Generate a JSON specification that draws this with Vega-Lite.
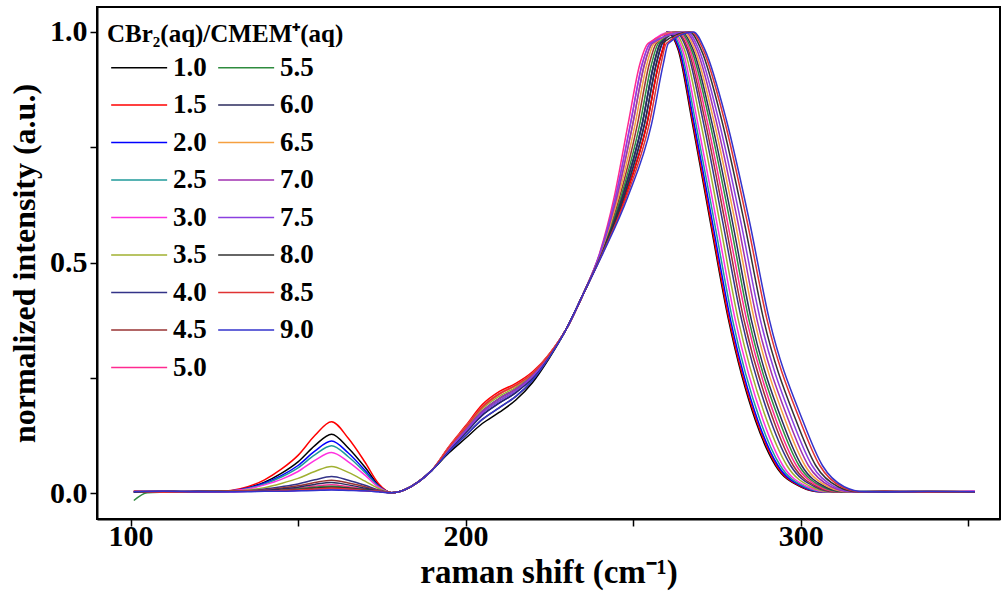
{
"$schema":"https://vega.github.io/schema/vega-lite/v6.json",
"width":903,"height":512,
"autosize":{"type":"none"},
"padding":{"left":97,"top":7,"right":2,"bottom":72},
"background":"white",
"config":{"view":{"stroke":"black","strokeWidth":2},
"axis":{"domainColor":"black","domainWidth":2,"tickColor":"black","tickWidth":1.5,"tickSize":7,"grid":false,"labelFont":"Liberation Serif","labelFontWeight":"bold","labelFontSize":30,"labelColor":"black","titleFont":"Liberation Serif","titleFontWeight":"bold","titleFontSize":32,"titleColor":"black","labelPadding":1}},
"data":{"values":[
{"c":"1.0","x":101,"y":0.004},{"c":"1.0","x":110,"y":0.002},{"c":"1.0","x":120,"y":0.003},{"c":"1.0","x":130,"y":0.005},{"c":"1.0","x":135,"y":0.012},{"c":"1.0","x":140,"y":0.024},{"c":"1.0","x":145,"y":0.043},{"c":"1.0","x":150,"y":0.068},{"c":"1.0","x":155,"y":0.103},{"c":"1.0","x":160,"y":0.128},{"c":"1.0","x":165,"y":0.098},{"c":"1.0","x":170,"y":0.056},{"c":"1.0","x":174,"y":0.018},{"c":"1.0","x":178,"y":0.001},{"c":"1.0","x":182,"y":0.008},{"c":"1.0","x":186,"y":0.025},{"c":"1.0","x":190,"y":0.05},{"c":"1.0","x":195,"y":0.087},{"c":"1.0","x":200,"y":0.119},{"c":"1.0","x":205,"y":0.151},{"c":"1.0","x":210,"y":0.175},{"c":"1.0","x":215,"y":0.202},{"c":"1.0","x":220,"y":0.24},{"c":"1.0","x":225,"y":0.293},{"c":"1.0","x":230,"y":0.355},{"c":"1.0","x":235,"y":0.43},{"c":"1.0","x":240.8,"y":0.52},{"c":"1.0","x":247.5,"y":0.64},{"c":"1.0","x":254.1,"y":0.8},{"c":"1.0","x":257.6,"y":0.93},{"c":"1.0","x":259.3,"y":0.975},{"c":"1.0","x":260,"y":1.0},{"c":"1.0","x":263.5,"y":0.96},{"c":"1.0","x":267.5,"y":0.81},{"c":"1.0","x":273,"y":0.59},{"c":"1.0","x":278.5,"y":0.375},{"c":"1.0","x":286.5,"y":0.158},{"c":"1.0","x":292.5,"y":0.06},{"c":"1.0","x":300,"y":0.014},{"c":"1.0","x":306,"y":0.003},{"c":"1.0","x":325,"y":0.002},{"c":"1.0","x":338,"y":0.004},{"c":"1.0","x":352,"y":0.003},
{"c":"1.5","x":101,"y":0.003},{"c":"1.5","x":110,"y":0.004},{"c":"1.5","x":120,"y":0.002},{"c":"1.5","x":130,"y":0.006},{"c":"1.5","x":135,"y":0.014},{"c":"1.5","x":140,"y":0.029},{"c":"1.5","x":145,"y":0.052},{"c":"1.5","x":150,"y":0.082},{"c":"1.5","x":155,"y":0.125},{"c":"1.5","x":160,"y":0.155},{"c":"1.5","x":165,"y":0.119},{"c":"1.5","x":170,"y":0.067},{"c":"1.5","x":174,"y":0.021},{"c":"1.5","x":178,"y":0.001},{"c":"1.5","x":182,"y":0.008},{"c":"1.5","x":186,"y":0.025},{"c":"1.5","x":190,"y":0.05},{"c":"1.5","x":195,"y":0.101},{"c":"1.5","x":200,"y":0.146},{"c":"1.5","x":205,"y":0.192},{"c":"1.5","x":210,"y":0.22},{"c":"1.5","x":215,"y":0.238},{"c":"1.5","x":220,"y":0.263},{"c":"1.5","x":225,"y":0.302},{"c":"1.5","x":230,"y":0.355},{"c":"1.5","x":235,"y":0.43},{"c":"1.5","x":240.8,"y":0.52},{"c":"1.5","x":247.5,"y":0.64},{"c":"1.5","x":254.1,"y":0.8},{"c":"1.5","x":257.6,"y":0.93},{"c":"1.5","x":259.3,"y":0.975},{"c":"1.5","x":260.2,"y":1.0},{"c":"1.5","x":263.7,"y":0.96},{"c":"1.5","x":267.7,"y":0.81},{"c":"1.5","x":273.2,"y":0.59},{"c":"1.5","x":278.7,"y":0.375},{"c":"1.5","x":286.8,"y":0.158},{"c":"1.5","x":292.8,"y":0.06},{"c":"1.5","x":300.3,"y":0.014},{"c":"1.5","x":306.3,"y":0.003},{"c":"1.5","x":325,"y":0.003},{"c":"1.5","x":338,"y":0.002},{"c":"1.5","x":352,"y":0.003},
{"c":"2.0","x":101,"y":0.002},{"c":"2.0","x":110,"y":0.004},{"c":"2.0","x":120,"y":0.003},{"c":"2.0","x":130,"y":0.005},{"c":"2.0","x":135,"y":0.011},{"c":"2.0","x":140,"y":0.022},{"c":"2.0","x":145,"y":0.038},{"c":"2.0","x":150,"y":0.06},{"c":"2.0","x":155,"y":0.091},{"c":"2.0","x":160,"y":0.113},{"c":"2.0","x":165,"y":0.087},{"c":"2.0","x":170,"y":0.049},{"c":"2.0","x":174,"y":0.016},{"c":"2.0","x":178,"y":0.001},{"c":"2.0","x":182,"y":0.008},{"c":"2.0","x":186,"y":0.025},{"c":"2.0","x":190,"y":0.05},{"c":"2.0","x":195,"y":0.093},{"c":"2.0","x":200,"y":0.131},{"c":"2.0","x":205,"y":0.169},{"c":"2.0","x":210,"y":0.195},{"c":"2.0","x":215,"y":0.218},{"c":"2.0","x":220,"y":0.25},{"c":"2.0","x":225,"y":0.297},{"c":"2.0","x":230,"y":0.355},{"c":"2.0","x":235,"y":0.43},{"c":"2.0","x":240.7,"y":0.52},{"c":"2.0","x":247.1,"y":0.64},{"c":"2.0","x":253.4,"y":0.8},{"c":"2.0","x":256.9,"y":0.93},{"c":"2.0","x":258.7,"y":0.975},{"c":"2.0","x":260.4,"y":1.0},{"c":"2.0","x":263.9,"y":0.96},{"c":"2.0","x":268,"y":0.81},{"c":"2.0","x":273.6,"y":0.59},{"c":"2.0","x":279.1,"y":0.375},{"c":"2.0","x":287.2,"y":0.158},{"c":"2.0","x":293.2,"y":0.06},{"c":"2.0","x":300.7,"y":0.014},{"c":"2.0","x":306.7,"y":0.003},{"c":"2.0","x":325,"y":0.004},{"c":"2.0","x":338,"y":0.003},{"c":"2.0","x":352,"y":0.002},
{"c":"2.5","x":101,"y":0.003},{"c":"2.5","x":110,"y":0.002},{"c":"2.5","x":120,"y":0.004},{"c":"2.5","x":130,"y":0.005},{"c":"2.5","x":135,"y":0.01},{"c":"2.5","x":140,"y":0.02},{"c":"2.5","x":145,"y":0.035},{"c":"2.5","x":150,"y":0.055},{"c":"2.5","x":155,"y":0.083},{"c":"2.5","x":160,"y":0.103},{"c":"2.5","x":165,"y":0.079},{"c":"2.5","x":170,"y":0.045},{"c":"2.5","x":174,"y":0.015},{"c":"2.5","x":178,"y":0.001},{"c":"2.5","x":182,"y":0.008},{"c":"2.5","x":186,"y":0.025},{"c":"2.5","x":190,"y":0.05},{"c":"2.5","x":195,"y":0.096},{"c":"2.5","x":200,"y":0.137},{"c":"2.5","x":205,"y":0.178},{"c":"2.5","x":210,"y":0.205},{"c":"2.5","x":215,"y":0.226},{"c":"2.5","x":220,"y":0.255},{"c":"2.5","x":225,"y":0.299},{"c":"2.5","x":230,"y":0.355},{"c":"2.5","x":235,"y":0.43},{"c":"2.5","x":240.6,"y":0.52},{"c":"2.5","x":246.7,"y":0.64},{"c":"2.5","x":252.7,"y":0.8},{"c":"2.5","x":256.2,"y":0.93},{"c":"2.5","x":258.1,"y":0.975},{"c":"2.5","x":260.8,"y":1.0},{"c":"2.5","x":264.3,"y":0.96},{"c":"2.5","x":268.5,"y":0.81},{"c":"2.5","x":274.2,"y":0.59},{"c":"2.5","x":279.7,"y":0.375},{"c":"2.5","x":287.9,"y":0.158},{"c":"2.5","x":293.9,"y":0.06},{"c":"2.5","x":301.3,"y":0.014},{"c":"2.5","x":307.3,"y":0.003},{"c":"2.5","x":325,"y":0.003},{"c":"2.5","x":338,"y":0.004},{"c":"2.5","x":352,"y":0.003},
{"c":"3.0","x":101,"y":0.004},{"c":"3.0","x":110,"y":0.003},{"c":"3.0","x":120,"y":0.002},{"c":"3.0","x":130,"y":0.005},{"c":"3.0","x":135,"y":0.009},{"c":"3.0","x":140,"y":0.018},{"c":"3.0","x":145,"y":0.03},{"c":"3.0","x":150,"y":0.047},{"c":"3.0","x":155,"y":0.071},{"c":"3.0","x":160,"y":0.088},{"c":"3.0","x":165,"y":0.068},{"c":"3.0","x":170,"y":0.039},{"c":"3.0","x":174,"y":0.013},{"c":"3.0","x":178,"y":0.001},{"c":"3.0","x":182,"y":0.008},{"c":"3.0","x":186,"y":0.025},{"c":"3.0","x":190,"y":0.05},{"c":"3.0","x":195,"y":0.099},{"c":"3.0","x":200,"y":0.143},{"c":"3.0","x":205,"y":0.187},{"c":"3.0","x":210,"y":0.215},{"c":"3.0","x":215,"y":0.234},{"c":"3.0","x":220,"y":0.26},{"c":"3.0","x":225,"y":0.301},{"c":"3.0","x":230,"y":0.355},{"c":"3.0","x":235,"y":0.43},{"c":"3.0","x":240.1,"y":0.52},{"c":"3.0","x":244.7,"y":0.64},{"c":"3.0","x":249.2,"y":0.8},{"c":"3.0","x":252.7,"y":0.93},{"c":"3.0","x":255.1,"y":0.975},{"c":"3.0","x":261.3,"y":1.0},{"c":"3.0","x":264.8,"y":0.96},{"c":"3.0","x":269.1,"y":0.81},{"c":"3.0","x":274.9,"y":0.59},{"c":"3.0","x":280.5,"y":0.375},{"c":"3.0","x":288.8,"y":0.158},{"c":"3.0","x":294.7,"y":0.06},{"c":"3.0","x":302.1,"y":0.014},{"c":"3.0","x":308.1,"y":0.003},{"c":"3.0","x":325,"y":0.002},{"c":"3.0","x":338,"y":0.003},{"c":"3.0","x":352,"y":0.004},
{"c":"3.5","x":101,"y":0.003},{"c":"3.5","x":110,"y":0.004},{"c":"3.5","x":120,"y":0.003},{"c":"3.5","x":130,"y":0.004},{"c":"3.5","x":135,"y":0.007},{"c":"3.5","x":140,"y":0.012},{"c":"3.5","x":145,"y":0.021},{"c":"3.5","x":150,"y":0.032},{"c":"3.5","x":155,"y":0.047},{"c":"3.5","x":160,"y":0.058},{"c":"3.5","x":165,"y":0.045},{"c":"3.5","x":170,"y":0.026},{"c":"3.5","x":174,"y":0.01},{"c":"3.5","x":178,"y":0.001},{"c":"3.5","x":182,"y":0.008},{"c":"3.5","x":186,"y":0.025},{"c":"3.5","x":190,"y":0.05},{"c":"3.5","x":195,"y":0.098},{"c":"3.5","x":200,"y":0.14},{"c":"3.5","x":205,"y":0.183},{"c":"3.5","x":210,"y":0.21},{"c":"3.5","x":215,"y":0.23},{"c":"3.5","x":220,"y":0.258},{"c":"3.5","x":225,"y":0.3},{"c":"3.5","x":230,"y":0.355},{"c":"3.5","x":235,"y":0.43},{"c":"3.5","x":240.2,"y":0.52},{"c":"3.5","x":245.1,"y":0.64},{"c":"3.5","x":249.9,"y":0.8},{"c":"3.5","x":253.4,"y":0.93},{"c":"3.5","x":255.7,"y":0.975},{"c":"3.5","x":261.9,"y":1.0},{"c":"3.5","x":265.4,"y":0.96},{"c":"3.5","x":270,"y":0.81},{"c":"3.5","x":275.8,"y":0.59},{"c":"3.5","x":281.4,"y":0.375},{"c":"3.5","x":289.9,"y":0.158},{"c":"3.5","x":295.9,"y":0.06},{"c":"3.5","x":303.1,"y":0.014},{"c":"3.5","x":309.1,"y":0.003},{"c":"3.5","x":325,"y":0.004},{"c":"3.5","x":338,"y":0.002},{"c":"3.5","x":352,"y":0.003},
{"c":"4.0","x":101,"y":0.002},{"c":"4.0","x":110,"y":0.003},{"c":"4.0","x":120,"y":0.004},{"c":"4.0","x":130,"y":0.004},{"c":"4.0","x":135,"y":0.005},{"c":"4.0","x":140,"y":0.009},{"c":"4.0","x":145,"y":0.014},{"c":"4.0","x":150,"y":0.02},{"c":"4.0","x":155,"y":0.029},{"c":"4.0","x":160,"y":0.036},{"c":"4.0","x":165,"y":0.028},{"c":"4.0","x":170,"y":0.017},{"c":"4.0","x":174,"y":0.007},{"c":"4.0","x":178,"y":0.001},{"c":"4.0","x":182,"y":0.008},{"c":"4.0","x":186,"y":0.025},{"c":"4.0","x":190,"y":0.05},{"c":"4.0","x":195,"y":0.095},{"c":"4.0","x":200,"y":0.134},{"c":"4.0","x":205,"y":0.174},{"c":"4.0","x":210,"y":0.2},{"c":"4.0","x":215,"y":0.222},{"c":"4.0","x":220,"y":0.253},{"c":"4.0","x":225,"y":0.298},{"c":"4.0","x":230,"y":0.355},{"c":"4.0","x":235,"y":0.43},{"c":"4.0","x":240.6,"y":0.52},{"c":"4.0","x":246.7,"y":0.64},{"c":"4.0","x":252.7,"y":0.8},{"c":"4.0","x":256.2,"y":0.93},{"c":"4.0","x":258.1,"y":0.975},{"c":"4.0","x":262.6,"y":1.0},{"c":"4.0","x":266.1,"y":0.96},{"c":"4.0","x":270.8,"y":0.81},{"c":"4.0","x":276.7,"y":0.59},{"c":"4.0","x":282.4,"y":0.375},{"c":"4.0","x":291,"y":0.158},{"c":"4.0","x":297,"y":0.06},{"c":"4.0","x":304.2,"y":0.014},{"c":"4.0","x":310.2,"y":0.003},{"c":"4.0","x":325,"y":0.003},{"c":"4.0","x":338,"y":0.003},{"c":"4.0","x":352,"y":0.002},
{"c":"4.5","x":101,"y":0.004},{"c":"4.5","x":110,"y":0.003},{"c":"4.5","x":120,"y":0.002},{"c":"4.5","x":130,"y":0.004},{"c":"4.5","x":135,"y":0.005},{"c":"4.5","x":140,"y":0.007},{"c":"4.5","x":145,"y":0.011},{"c":"4.5","x":150,"y":0.016},{"c":"4.5","x":155,"y":0.023},{"c":"4.5","x":160,"y":0.028},{"c":"4.5","x":165,"y":0.022},{"c":"4.5","x":170,"y":0.014},{"c":"4.5","x":174,"y":0.006},{"c":"4.5","x":178,"y":0.001},{"c":"4.5","x":182,"y":0.008},{"c":"4.5","x":186,"y":0.025},{"c":"4.5","x":190,"y":0.05},{"c":"4.5","x":195,"y":0.099},{"c":"4.5","x":200,"y":0.143},{"c":"4.5","x":205,"y":0.187},{"c":"4.5","x":210,"y":0.215},{"c":"4.5","x":215,"y":0.234},{"c":"4.5","x":220,"y":0.26},{"c":"4.5","x":225,"y":0.301},{"c":"4.5","x":230,"y":0.355},{"c":"4.5","x":235,"y":0.43},{"c":"4.5","x":240.4,"y":0.52},{"c":"4.5","x":245.9,"y":0.64},{"c":"4.5","x":251.3,"y":0.8},{"c":"4.5","x":254.8,"y":0.93},{"c":"4.5","x":256.9,"y":0.975},{"c":"4.5","x":263,"y":1.0},{"c":"4.5","x":266.5,"y":0.96},{"c":"4.5","x":271.4,"y":0.81},{"c":"4.5","x":277.4,"y":0.59},{"c":"4.5","x":283.1,"y":0.375},{"c":"4.5","x":291.9,"y":0.158},{"c":"4.5","x":297.8,"y":0.06},{"c":"4.5","x":304.9,"y":0.014},{"c":"4.5","x":310.9,"y":0.003},{"c":"4.5","x":325,"y":0.002},{"c":"4.5","x":338,"y":0.004},{"c":"4.5","x":352,"y":0.003},
{"c":"5.0","x":101,"y":0.003},{"c":"5.0","x":110,"y":0.002},{"c":"5.0","x":120,"y":0.004},{"c":"5.0","x":130,"y":0.003},{"c":"5.0","x":135,"y":0.004},{"c":"5.0","x":140,"y":0.006},{"c":"5.0","x":145,"y":0.008},{"c":"5.0","x":150,"y":0.011},{"c":"5.0","x":155,"y":0.015},{"c":"5.0","x":160,"y":0.018},{"c":"5.0","x":165,"y":0.014},{"c":"5.0","x":170,"y":0.009},{"c":"5.0","x":174,"y":0.005},{"c":"5.0","x":178,"y":0.001},{"c":"5.0","x":182,"y":0.008},{"c":"5.0","x":186,"y":0.025},{"c":"5.0","x":190,"y":0.05},{"c":"5.0","x":195,"y":0.099},{"c":"5.0","x":200,"y":0.143},{"c":"5.0","x":205,"y":0.187},{"c":"5.0","x":210,"y":0.215},{"c":"5.0","x":215,"y":0.234},{"c":"5.0","x":220,"y":0.26},{"c":"5.0","x":225,"y":0.301},{"c":"5.0","x":230,"y":0.355},{"c":"5.0","x":235,"y":0.43},{"c":"5.0","x":240,"y":0.52},{"c":"5.0","x":244.3,"y":0.64},{"c":"5.0","x":248.5,"y":0.8},{"c":"5.0","x":252,"y":0.93},{"c":"5.0","x":254.5,"y":0.975},{"c":"5.0","x":263.5,"y":1.0},{"c":"5.0","x":267,"y":0.96},{"c":"5.0","x":272,"y":0.81},{"c":"5.0","x":278.1,"y":0.59},{"c":"5.0","x":283.9,"y":0.375},{"c":"5.0","x":292.7,"y":0.158},{"c":"5.0","x":298.7,"y":0.06},{"c":"5.0","x":305.7,"y":0.014},{"c":"5.0","x":311.7,"y":0.003},{"c":"5.0","x":325,"y":0.003},{"c":"5.0","x":338,"y":0.002},{"c":"5.0","x":352,"y":0.004},
{"c":"5.5","x":101,"y":-0.016},{"c":"5.5","x":105,"y":0.001},{"c":"5.5","x":110,"y":0.002},{"c":"5.5","x":120,"y":0.003},{"c":"5.5","x":130,"y":0.004},{"c":"5.5","x":135,"y":0.004},{"c":"5.5","x":140,"y":0.005},{"c":"5.5","x":145,"y":0.007},{"c":"5.5","x":150,"y":0.009},{"c":"5.5","x":155,"y":0.013},{"c":"5.5","x":160,"y":0.015},{"c":"5.5","x":165,"y":0.012},{"c":"5.5","x":170,"y":0.008},{"c":"5.5","x":174,"y":0.004},{"c":"5.5","x":178,"y":0.001},{"c":"5.5","x":182,"y":0.008},{"c":"5.5","x":186,"y":0.025},{"c":"5.5","x":190,"y":0.05},{"c":"5.5","x":195,"y":0.096},{"c":"5.5","x":200,"y":0.137},{"c":"5.5","x":205,"y":0.178},{"c":"5.5","x":210,"y":0.205},{"c":"5.5","x":215,"y":0.226},{"c":"5.5","x":220,"y":0.255},{"c":"5.5","x":225,"y":0.299},{"c":"5.5","x":230,"y":0.355},{"c":"5.5","x":235,"y":0.43},{"c":"5.5","x":240.5,"y":0.52},{"c":"5.5","x":246.3,"y":0.64},{"c":"5.5","x":252,"y":0.8},{"c":"5.5","x":255.5,"y":0.93},{"c":"5.5","x":257.5,"y":0.975},{"c":"5.5","x":264,"y":1.0},{"c":"5.5","x":267.5,"y":0.96},{"c":"5.5","x":272.7,"y":0.81},{"c":"5.5","x":278.9,"y":0.59},{"c":"5.5","x":284.6,"y":0.375},{"c":"5.5","x":293.6,"y":0.158},{"c":"5.5","x":299.5,"y":0.06},{"c":"5.5","x":306.5,"y":0.014},{"c":"5.5","x":312.5,"y":0.003},{"c":"5.5","x":325,"y":0.003},{"c":"5.5","x":338,"y":0.003},{"c":"5.5","x":352,"y":0.002},
{"c":"6.0","x":101,"y":0.003},{"c":"6.0","x":110,"y":0.004},{"c":"6.0","x":120,"y":0.002},{"c":"6.0","x":130,"y":0.004},{"c":"6.0","x":135,"y":0.004},{"c":"6.0","x":140,"y":0.006},{"c":"6.0","x":145,"y":0.009},{"c":"6.0","x":150,"y":0.013},{"c":"6.0","x":155,"y":0.019},{"c":"6.0","x":160,"y":0.023},{"c":"6.0","x":165,"y":0.018},{"c":"6.0","x":170,"y":0.011},{"c":"6.0","x":174,"y":0.005},{"c":"6.0","x":178,"y":0.001},{"c":"6.0","x":182,"y":0.008},{"c":"6.0","x":186,"y":0.025},{"c":"6.0","x":190,"y":0.05},{"c":"6.0","x":195,"y":0.093},{"c":"6.0","x":200,"y":0.131},{"c":"6.0","x":205,"y":0.169},{"c":"6.0","x":210,"y":0.195},{"c":"6.0","x":215,"y":0.218},{"c":"6.0","x":220,"y":0.25},{"c":"6.0","x":225,"y":0.297},{"c":"6.0","x":230,"y":0.355},{"c":"6.0","x":235,"y":0.43},{"c":"6.0","x":240.6,"y":0.52},{"c":"6.0","x":246.7,"y":0.64},{"c":"6.0","x":252.7,"y":0.8},{"c":"6.0","x":256.2,"y":0.93},{"c":"6.0","x":258.1,"y":0.975},{"c":"6.0","x":264.5,"y":1.0},{"c":"6.0","x":268,"y":0.96},{"c":"6.0","x":273.3,"y":0.81},{"c":"6.0","x":279.6,"y":0.59},{"c":"6.0","x":285.3,"y":0.375},{"c":"6.0","x":294.4,"y":0.158},{"c":"6.0","x":300.3,"y":0.06},{"c":"6.0","x":307.3,"y":0.014},{"c":"6.0","x":313.3,"y":0.003},{"c":"6.0","x":325,"y":0.004},{"c":"6.0","x":338,"y":0.003},{"c":"6.0","x":352,"y":0.003},
{"c":"6.5","x":101,"y":0.004},{"c":"6.5","x":110,"y":0.003},{"c":"6.5","x":120,"y":0.003},{"c":"6.5","x":130,"y":0.004},{"c":"6.5","x":135,"y":0.004},{"c":"6.5","x":140,"y":0.004},{"c":"6.5","x":145,"y":0.006},{"c":"6.5","x":150,"y":0.007},{"c":"6.5","x":155,"y":0.009},{"c":"6.5","x":160,"y":0.011},{"c":"6.5","x":165,"y":0.009},{"c":"6.5","x":170,"y":0.006},{"c":"6.5","x":174,"y":0.004},{"c":"6.5","x":178,"y":0.001},{"c":"6.5","x":182,"y":0.008},{"c":"6.5","x":186,"y":0.025},{"c":"6.5","x":190,"y":0.05},{"c":"6.5","x":195,"y":0.099},{"c":"6.5","x":200,"y":0.143},{"c":"6.5","x":205,"y":0.187},{"c":"6.5","x":210,"y":0.215},{"c":"6.5","x":215,"y":0.234},{"c":"6.5","x":220,"y":0.26},{"c":"6.5","x":225,"y":0.301},{"c":"6.5","x":230,"y":0.355},{"c":"6.5","x":235,"y":0.43},{"c":"6.5","x":240.3,"y":0.52},{"c":"6.5","x":245.5,"y":0.64},{"c":"6.5","x":250.6,"y":0.8},{"c":"6.5","x":254.1,"y":0.93},{"c":"6.5","x":256.3,"y":0.975},{"c":"6.5","x":265,"y":1.0},{"c":"6.5","x":268.5,"y":0.96},{"c":"6.5","x":274,"y":0.81},{"c":"6.5","x":280.4,"y":0.59},{"c":"6.5","x":286.2,"y":0.375},{"c":"6.5","x":295.4,"y":0.158},{"c":"6.5","x":301.3,"y":0.06},{"c":"6.5","x":308.2,"y":0.014},{"c":"6.5","x":314.2,"y":0.003},{"c":"6.5","x":325,"y":0.003},{"c":"6.5","x":338,"y":0.004},{"c":"6.5","x":352,"y":0.003},
{"c":"7.0","x":101,"y":0.003},{"c":"7.0","x":110,"y":0.004},{"c":"7.0","x":120,"y":0.002},{"c":"7.0","x":130,"y":0.003},{"c":"7.0","x":135,"y":0.004},{"c":"7.0","x":140,"y":0.004},{"c":"7.0","x":145,"y":0.005},{"c":"7.0","x":150,"y":0.006},{"c":"7.0","x":155,"y":0.008},{"c":"7.0","x":160,"y":0.009},{"c":"7.0","x":165,"y":0.008},{"c":"7.0","x":170,"y":0.005},{"c":"7.0","x":174,"y":0.004},{"c":"7.0","x":178,"y":0.001},{"c":"7.0","x":182,"y":0.008},{"c":"7.0","x":186,"y":0.025},{"c":"7.0","x":190,"y":0.05},{"c":"7.0","x":195,"y":0.096},{"c":"7.0","x":200,"y":0.137},{"c":"7.0","x":205,"y":0.178},{"c":"7.0","x":210,"y":0.205},{"c":"7.0","x":215,"y":0.226},{"c":"7.0","x":220,"y":0.255},{"c":"7.0","x":225,"y":0.299},{"c":"7.0","x":230,"y":0.355},{"c":"7.0","x":235,"y":0.43},{"c":"7.0","x":240.2,"y":0.52},{"c":"7.0","x":245.1,"y":0.64},{"c":"7.0","x":249.9,"y":0.8},{"c":"7.0","x":253.4,"y":0.93},{"c":"7.0","x":255.7,"y":0.975},{"c":"7.0","x":265.6,"y":1.0},{"c":"7.0","x":269.1,"y":0.96},{"c":"7.0","x":274.7,"y":0.81},{"c":"7.0","x":281.2,"y":0.59},{"c":"7.0","x":287,"y":0.375},{"c":"7.0","x":296.4,"y":0.158},{"c":"7.0","x":302.3,"y":0.06},{"c":"7.0","x":309.1,"y":0.014},{"c":"7.0","x":315.1,"y":0.003},{"c":"7.0","x":325,"y":0.002},{"c":"7.0","x":338,"y":0.003},{"c":"7.0","x":352,"y":0.003},
{"c":"7.5","x":101,"y":0.004},{"c":"7.5","x":110,"y":0.003},{"c":"7.5","x":120,"y":0.004},{"c":"7.5","x":130,"y":0.003},{"c":"7.5","x":135,"y":0.004},{"c":"7.5","x":140,"y":0.004},{"c":"7.5","x":145,"y":0.005},{"c":"7.5","x":150,"y":0.006},{"c":"7.5","x":155,"y":0.007},{"c":"7.5","x":160,"y":0.008},{"c":"7.5","x":165,"y":0.007},{"c":"7.5","x":170,"y":0.005},{"c":"7.5","x":174,"y":0.003},{"c":"7.5","x":178,"y":0.001},{"c":"7.5","x":182,"y":0.008},{"c":"7.5","x":186,"y":0.025},{"c":"7.5","x":190,"y":0.05},{"c":"7.5","x":195,"y":0.095},{"c":"7.5","x":200,"y":0.134},{"c":"7.5","x":205,"y":0.174},{"c":"7.5","x":210,"y":0.2},{"c":"7.5","x":215,"y":0.222},{"c":"7.5","x":220,"y":0.253},{"c":"7.5","x":225,"y":0.298},{"c":"7.5","x":230,"y":0.355},{"c":"7.5","x":235,"y":0.43},{"c":"7.5","x":240.1,"y":0.52},{"c":"7.5","x":244.7,"y":0.64},{"c":"7.5","x":249.2,"y":0.8},{"c":"7.5","x":252.7,"y":0.93},{"c":"7.5","x":255.1,"y":0.975},{"c":"7.5","x":266.2,"y":1.0},{"c":"7.5","x":269.7,"y":0.96},{"c":"7.5","x":275.5,"y":0.81},{"c":"7.5","x":282.1,"y":0.59},{"c":"7.5","x":288,"y":0.375},{"c":"7.5","x":297.5,"y":0.158},{"c":"7.5","x":303.4,"y":0.06},{"c":"7.5","x":310.1,"y":0.014},{"c":"7.5","x":316.1,"y":0.003},{"c":"7.5","x":325,"y":0.003},{"c":"7.5","x":338,"y":0.002},{"c":"7.5","x":352,"y":0.004},
{"c":"8.0","x":101,"y":0.002},{"c":"8.0","x":110,"y":0.003},{"c":"8.0","x":120,"y":0.004},{"c":"8.0","x":130,"y":0.004},{"c":"8.0","x":135,"y":0.004},{"c":"8.0","x":140,"y":0.005},{"c":"8.0","x":145,"y":0.006},{"c":"8.0","x":150,"y":0.008},{"c":"8.0","x":155,"y":0.011},{"c":"8.0","x":160,"y":0.013},{"c":"8.0","x":165,"y":0.011},{"c":"8.0","x":170,"y":0.007},{"c":"8.0","x":174,"y":0.004},{"c":"8.0","x":178,"y":0.001},{"c":"8.0","x":182,"y":0.008},{"c":"8.0","x":186,"y":0.025},{"c":"8.0","x":190,"y":0.05},{"c":"8.0","x":195,"y":0.09},{"c":"8.0","x":200,"y":0.125},{"c":"8.0","x":205,"y":0.16},{"c":"8.0","x":210,"y":0.185},{"c":"8.0","x":215,"y":0.21},{"c":"8.0","x":220,"y":0.245},{"c":"8.0","x":225,"y":0.295},{"c":"8.0","x":230,"y":0.355},{"c":"8.0","x":235,"y":0.43},{"c":"8.0","x":240.7,"y":0.52},{"c":"8.0","x":247.1,"y":0.64},{"c":"8.0","x":253.4,"y":0.8},{"c":"8.0","x":256.9,"y":0.93},{"c":"8.0","x":258.7,"y":0.975},{"c":"8.0","x":266.9,"y":1.0},{"c":"8.0","x":270.4,"y":0.96},{"c":"8.0","x":276.4,"y":0.81},{"c":"8.0","x":283.1,"y":0.59},{"c":"8.0","x":289,"y":0.375},{"c":"8.0","x":298.6,"y":0.158},{"c":"8.0","x":304.5,"y":0.06},{"c":"8.0","x":311.2,"y":0.014},{"c":"8.0","x":317.2,"y":0.003},{"c":"8.0","x":325,"y":0.003},{"c":"8.0","x":338,"y":0.003},{"c":"8.0","x":352,"y":0.002},
{"c":"8.5","x":101,"y":0.004},{"c":"8.5","x":110,"y":0.002},{"c":"8.5","x":120,"y":0.003},{"c":"8.5","x":130,"y":0.004},{"c":"8.5","x":135,"y":0.004},{"c":"8.5","x":140,"y":0.004},{"c":"8.5","x":145,"y":0.006},{"c":"8.5","x":150,"y":0.007},{"c":"8.5","x":155,"y":0.009},{"c":"8.5","x":160,"y":0.011},{"c":"8.5","x":165,"y":0.009},{"c":"8.5","x":170,"y":0.006},{"c":"8.5","x":174,"y":0.004},{"c":"8.5","x":178,"y":0.001},{"c":"8.5","x":182,"y":0.008},{"c":"8.5","x":186,"y":0.025},{"c":"8.5","x":190,"y":0.05},{"c":"8.5","x":195,"y":0.099},{"c":"8.5","x":200,"y":0.143},{"c":"8.5","x":205,"y":0.187},{"c":"8.5","x":210,"y":0.215},{"c":"8.5","x":215,"y":0.234},{"c":"8.5","x":220,"y":0.26},{"c":"8.5","x":225,"y":0.301},{"c":"8.5","x":230,"y":0.355},{"c":"8.5","x":235,"y":0.43},{"c":"8.5","x":240.9,"y":0.52},{"c":"8.5","x":247.9,"y":0.64},{"c":"8.5","x":254.8,"y":0.8},{"c":"8.5","x":258.3,"y":0.93},{"c":"8.5","x":259.9,"y":0.975},{"c":"8.5","x":267.5,"y":1.0},{"c":"8.5","x":271,"y":0.96},{"c":"8.5","x":277.2,"y":0.81},{"c":"8.5","x":284,"y":0.59},{"c":"8.5","x":290,"y":0.375},{"c":"8.5","x":299.8,"y":0.158},{"c":"8.5","x":305.7,"y":0.06},{"c":"8.5","x":312.2,"y":0.014},{"c":"8.5","x":318.2,"y":0.003},{"c":"8.5","x":325,"y":0.004},{"c":"8.5","x":338,"y":0.003},{"c":"8.5","x":352,"y":0.003},
{"c":"9.0","x":101,"y":0.003},{"c":"9.0","x":110,"y":0.004},{"c":"9.0","x":120,"y":0.003},{"c":"9.0","x":130,"y":0.003},{"c":"9.0","x":135,"y":0.003},{"c":"9.0","x":140,"y":0.004},{"c":"9.0","x":145,"y":0.004},{"c":"9.0","x":150,"y":0.005},{"c":"9.0","x":155,"y":0.006},{"c":"9.0","x":160,"y":0.007},{"c":"9.0","x":165,"y":0.006},{"c":"9.0","x":170,"y":0.005},{"c":"9.0","x":174,"y":0.003},{"c":"9.0","x":178,"y":0.001},{"c":"9.0","x":182,"y":0.008},{"c":"9.0","x":186,"y":0.025},{"c":"9.0","x":190,"y":0.05},{"c":"9.0","x":195,"y":0.09},{"c":"9.0","x":200,"y":0.125},{"c":"9.0","x":205,"y":0.16},{"c":"9.0","x":210,"y":0.185},{"c":"9.0","x":215,"y":0.21},{"c":"9.0","x":220,"y":0.245},{"c":"9.0","x":225,"y":0.295},{"c":"9.0","x":230,"y":0.355},{"c":"9.0","x":235,"y":0.43},{"c":"9.0","x":241,"y":0.52},{"c":"9.0","x":248.3,"y":0.64},{"c":"9.0","x":255.5,"y":0.8},{"c":"9.0","x":259,"y":0.93},{"c":"9.0","x":260.5,"y":0.975},{"c":"9.0","x":268,"y":1.0},{"c":"9.0","x":271.5,"y":0.96},{"c":"9.0","x":277.8,"y":0.81},{"c":"9.0","x":284.7,"y":0.59},{"c":"9.0","x":290.7,"y":0.375},{"c":"9.0","x":300.6,"y":0.158},{"c":"9.0","x":306.5,"y":0.06},{"c":"9.0","x":313,"y":0.014},{"c":"9.0","x":319,"y":0.003},{"c":"9.0","x":325,"y":0.003},{"c":"9.0","x":338,"y":0.004},{"c":"9.0","x":352,"y":0.003}
]},
"mark":{"type":"line","strokeWidth":1.5,"interpolate":"monotone"},
"encoding":{
"x":{"field":"x","type":"quantitative","scale":{"domain":[90,359.5],"nice":false,"zero":false},
"axis":{"values":[100,150,200,250,300,350],"labelExpr":"datum.value % 100 == 0 ? format(datum.value,'d') : ''","title":"raman shift (cm⁻¹)","titleFontSize":33,"titlePadding":5,"labelPadding":-5,"labelFlush":false}},
"y":{"field":"y","type":"quantitative","scale":{"domain":[-0.056,1.054],"nice":false,"zero":false},
"axis":{"values":[0,0.25,0.5,0.75,1],"labelExpr":"(datum.value == 0.25 || datum.value == 0.75) ? '' : format(datum.value,'.1f')","title":"normalized intensity (a.u.)","titlePadding":8,"labelPadding":3,"labelFlush":false}},
"color":{"field":"c","type":"nominal","sort":null,
"scale":{"domain":["1.0","1.5","2.0","2.5","3.0","3.5","4.0","4.5","5.0","5.5","6.0","6.5","7.0","7.5","8.0","8.5","9.0"],
"range":["#000000","#ff0000","#0000ff","#1f9a9a","#ff30e0","#a0b030","#333388","#993333","#ff2a90","#2e8b3e","#2b2b5e","#f5a040","#a030b0","#8a40e0","#333333","#e03333","#3333cc"]},
"legend":{"orient":"none","legendX":10,"legendY":15,"columns":2,"title":"CBr₂(aq)/CMEM⁺(aq)","titleLimit":500,"titleFont":"Liberation Serif","titleFontSize":25,"titleFontWeight":"bold","titleColor":"black","titlePadding":7,"labelFont":"Liberation Serif","labelFontSize":27,"labelFontWeight":"bold","labelColor":"black","symbolType":"M-1,0H5","symbolSize":348,"symbolStrokeWidth":1.5,"rowPadding":9.5,"columnPadding":7,"labelOffset":39}},
"order":{"field":"x","type":"quantitative"}
}
}
